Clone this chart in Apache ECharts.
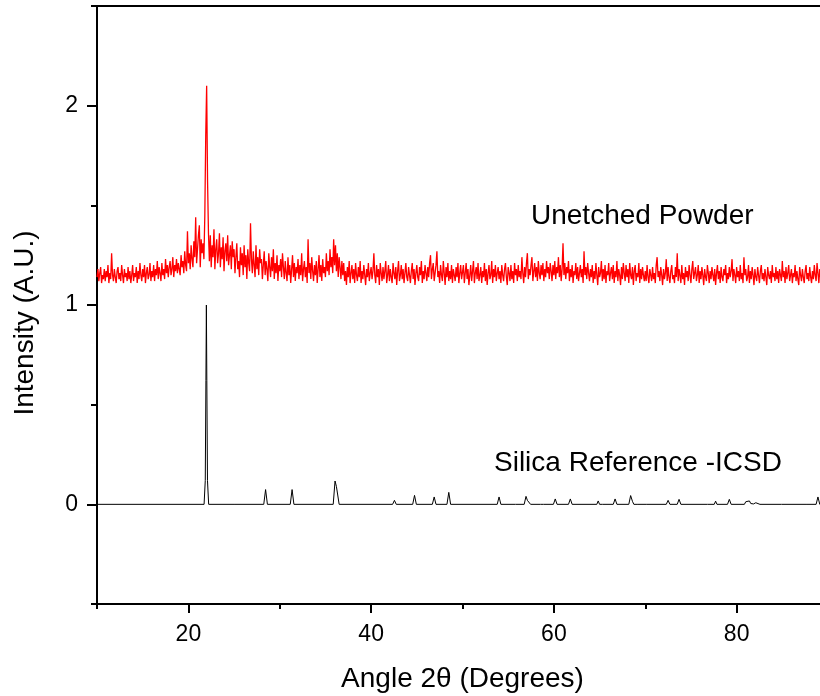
<!DOCTYPE html>
<html>
<head>
<meta charset="utf-8">
<script src="https://cdn.jsdelivr.net/npm/echarts@6/dist/echarts.min.js"></script>
<style>
html,body{margin:0;padding:0;background:#fff;}
#chart{width:820px;height:696px;}
</style>
</head>
<body>
<div id="chart"></div>
<script>
// ---------- DATA ----------
// X-ray diffraction scan of unetched powder: uniform 2θ sampling
const unetchedStart = 10.0;   // degrees 2θ
const unetchedStep = 0.1;     // degrees 2θ per sample
const unetchedY = [
1.14,1.18,1.12,1.16,1.19,1.11,1.15,1.13,1.18,1.12,1.17,1.14,1.20,1.11,1.16,1.13,1.26,1.15,1.12,1.18,
1.14,1.11,1.17,1.19,1.13,1.16,1.12,1.20,1.15,1.11,1.18,1.14,1.16,1.12,1.19,1.13,1.17,1.11,1.15,1.20,
1.12,1.16,1.14,1.19,1.11,1.17,1.13,1.21,1.15,1.12,1.18,1.14,1.20,1.11,1.16,1.19,1.13,1.15,1.21,1.12,
1.17,1.14,1.20,1.12,1.18,1.15,1.22,1.13,1.19,1.16,1.12,1.21,1.15,1.18,1.13,1.23,1.16,1.20,1.14,1.19,
1.22,1.15,1.18,1.24,1.14,1.20,1.17,1.23,1.16,1.21,1.18,1.15,1.25,1.19,1.22,1.16,1.27,1.20,1.17,1.37,
1.21,1.26,1.18,1.30,1.23,1.19,1.32,1.24,1.44,1.21,1.28,1.35,1.40,1.19,1.33,1.26,1.31,1.23,1.45,1.85,
2.10,1.62,1.36,1.22,1.35,1.19,1.30,1.24,1.38,1.18,1.28,1.33,1.21,1.26,1.36,1.19,1.29,1.23,1.34,1.17,
1.27,1.31,1.22,1.35,1.20,1.25,1.30,1.18,1.32,1.24,1.28,1.16,1.24,1.31,1.18,1.22,1.14,1.29,1.20,1.26,
1.15,1.30,1.19,1.25,1.13,1.28,1.21,1.17,1.41,1.23,1.16,1.27,1.20,1.14,1.30,1.18,1.24,1.15,1.28,1.21,
1.23,1.13,1.20,1.27,1.15,1.22,1.18,1.12,1.26,1.19,1.14,1.24,1.17,1.28,1.13,1.21,1.16,1.25,1.12,1.20,
1.17,1.23,1.14,1.26,1.19,1.13,1.22,1.16,1.12,1.24,1.15,1.20,1.11,1.18,1.25,1.14,1.21,1.12,1.19,1.16,
1.23,1.13,1.20,1.15,1.26,1.12,1.18,1.22,1.14,1.19,1.11,1.33,1.16,1.21,1.13,1.24,1.17,1.12,1.20,1.15,
1.22,1.11,1.18,1.25,1.14,1.20,1.12,1.23,1.16,1.19,1.14,1.26,1.17,1.22,1.15,1.28,1.19,1.24,1.16,1.33,
1.20,1.30,1.17,1.26,1.14,1.24,1.19,1.13,1.22,1.15,1.21,1.12,1.17,1.10,1.19,1.14,1.22,1.11,1.16,1.20,
1.13,1.18,1.11,1.21,1.15,1.12,1.19,1.14,1.22,1.11,1.17,1.13,1.20,1.15,1.10,1.18,1.14,1.21,1.12,1.16,
1.19,1.13,1.17,1.26,1.15,1.11,1.20,1.14,1.18,1.10,1.21,1.16,1.12,1.19,1.13,1.17,1.22,1.11,1.15,1.20,
1.12,1.18,1.14,1.11,1.21,1.16,1.13,1.19,1.10,1.17,1.22,1.12,1.15,1.20,1.13,1.18,1.11,1.16,1.21,1.14,
1.12,1.19,1.15,1.11,1.17,1.21,1.13,1.18,1.10,1.16,1.20,1.14,1.12,1.19,1.15,1.22,1.11,1.17,1.13,1.20,
1.16,1.12,1.19,1.14,1.21,1.25,1.13,1.18,1.21,1.12,1.16,1.20,1.27,1.14,1.17,1.11,1.20,1.15,1.12,1.22,
1.16,1.10,1.19,1.14,1.21,1.12,1.17,1.13,1.20,1.11,1.18,1.15,1.12,1.19,1.14,1.21,1.11,1.16,1.20,1.13,
1.14,1.20,1.11,1.16,1.21,1.13,1.18,1.10,1.15,1.20,1.12,1.17,1.22,1.11,1.16,1.19,1.13,1.21,1.12,1.15,
1.19,1.11,1.17,1.14,1.21,1.12,1.18,1.10,1.16,1.20,1.13,1.15,1.22,1.11,1.18,1.14,1.20,1.12,1.16,1.19,
1.13,1.17,1.11,1.20,1.15,1.12,1.18,1.21,1.14,1.10,1.19,1.16,1.12,1.20,1.13,1.17,1.11,1.21,1.15,1.18,
1.12,1.20,1.14,1.17,1.13,1.24,1.16,1.11,1.19,1.14,1.21,1.26,1.13,1.18,1.15,1.20,1.24,1.12,1.17,1.21,
1.14,1.19,1.12,1.22,1.16,1.13,1.20,1.15,1.21,1.12,1.18,1.14,1.22,1.16,1.19,1.13,1.21,1.17,1.12,1.20,
1.15,1.22,1.13,1.19,1.16,1.24,1.14,1.20,1.12,1.18,1.31,1.15,1.21,1.13,1.19,1.16,1.22,1.12,1.18,1.14,
1.20,1.11,1.17,1.15,1.21,1.13,1.19,1.12,1.16,1.20,1.14,1.18,1.11,1.27,1.15,1.19,1.13,1.21,1.16,1.12,
1.18,1.14,1.20,1.11,1.17,1.13,1.21,1.15,1.10,1.19,1.14,1.16,1.22,1.12,1.18,1.13,1.20,1.11,1.17,1.15,
1.21,1.12,1.16,1.19,1.13,1.20,1.11,1.17,1.14,1.22,1.12,1.18,1.15,1.10,1.19,1.13,1.21,1.16,1.12,1.20,
1.14,1.18,1.11,1.21,1.15,1.13,1.19,1.10,1.17,1.20,1.12,1.16,1.14,1.21,1.11,1.18,1.13,1.19,1.15,1.12,
1.17,1.12,1.20,1.14,1.11,1.18,1.15,1.12,1.19,1.13,1.16,1.11,1.20,1.24,1.14,1.17,1.12,1.19,1.15,1.10,
1.18,1.13,1.16,1.23,1.12,1.19,1.14,1.11,1.17,1.20,1.13,1.15,1.11,1.19,1.14,1.26,1.12,1.18,1.15,1.11,
1.20,1.13,1.16,1.10,1.19,1.14,1.17,1.12,1.20,1.15,1.11,1.18,1.22,1.13,1.16,1.19,1.12,1.15,1.20,1.11,
1.17,1.13,1.19,1.15,1.10,1.18,1.14,1.12,1.20,1.16,1.11,1.17,1.13,1.19,1.15,1.12,1.18,1.10,1.16,1.20,
1.13,1.17,1.11,1.19,1.14,1.12,1.18,1.15,1.20,1.11,1.16,1.13,1.19,1.14,1.17,1.23,1.12,1.18,1.15,1.11,
1.19,1.14,1.17,1.12,1.20,1.13,1.16,1.11,1.24,1.15,1.18,1.12,1.14,1.20,1.11,1.17,1.13,1.19,1.15,1.10,
1.18,1.14,1.12,1.19,1.15,1.11,1.17,1.20,1.13,1.16,1.12,1.18,1.14,1.10,1.19,1.15,1.13,1.17,1.11,1.20,
1.14,1.16,1.12,1.19,1.13,1.17,1.11,1.18,1.15,1.12,1.22,1.14,1.17,1.11,1.19,1.13,1.16,1.20,1.12,1.15,
1.18,1.11,1.16,1.14,1.20,1.12,1.17,1.13,1.10,1.19,1.15,1.12,1.18,1.14,1.11,1.17,1.20,1.13,1.16,1.12,
1.19,1.14,1.11,1.17,1.13,1.20,1.15,1.12,1.21,1.16,1.11,1.18,1.14
];

// Silica reference pattern (ICSD), peak profile points
const refAngle = [
10,
21.72,21.85,21.92,21.97,22.02,22.09,22.22,
25.1,25.2,25.3,
28.25,28.45,28.65,
31.15,31.35,31.55,
35.85,36.05,36.2,36.3,36.5,
42.35,42.55,42.75,
44.55,44.75,44.95,
46.7,46.9,47.1,
48.3,48.5,48.7,
53.8,54.0,54.2,
55.8,55.9,56.0,
56.75,56.95,57.1,57.3,57.45,
58.55,58.7,58.85,
59.95,60.15,60.35,
61.6,61.8,62.0,
64.7,64.85,65.0,65.1,65.2,65.3,
66.5,66.7,66.9,
68.2,68.4,68.6,68.75,
69.2,69.3,69.4,
70.1,70.2,70.3,
72.3,72.5,72.7,
73.5,73.7,73.9,
76.8,76.9,77.0,
77.55,77.7,77.85,
79.0,79.2,79.4,
80.85,81.0,81.15,81.4,81.55,81.7,81.85,82.1,82.25,
82.55,82.6,82.7,
84.9,85.0,85.1,
87.7,87.8,87.9,
88.7,88.9,89.1,
90
];
const refIntensity = [
0,
0,0.12,0.62,1.0,0.62,0.12,0,
0,0.006,0,
0,0.074,0,
0,0.074,0,
0,0.117,0.09,0.085,0,
0,0.02,0,
0,0.045,0,
0,0.037,0,
0,0.06,0,
0,0.037,0,
0,0.006,0,
0,0.04,0.02,0.028,0,
0,0.01,0,
0,0.027,0,
0,0.027,0,
0,0.017,0,0,0.008,0,
0,0.027,0,
0,0.044,0.015,0,
0,0.01,0,
0,0.008,0,
0,0.02,0,
0,0.025,0,
0,0.01,0,
0,0.016,0,
0,0.025,0,
0,0.013,0.005,0.017,0.004,0.01,0.002,0.008,0,
0,0.005,0,
0,0.003,0,
0,0.005,0,
0,0.037,0,
0
];

// Axis ticks / labels
const xMajorTicks = [20, 40, 60, 80];
const xMinorTicks = [10, 30, 50, 70, 90];
const yMajorTicks = [0, 1, 2];
const yMinorTicks = [-0.5, 0.5, 1.5, 2.5];
const xTitle = 'Angle 2θ (Degrees)';
const yTitle = 'Intensity (A.U.)';
const labelUnetched = 'Unetched Powder';
const labelSilica = 'Silica Reference -ICSD';

// ---------- CHART ----------
const FONT = "'Liberation Sans', Arial, sans-serif";
const unetchedData = unetchedY.map((v, i) => [+(unetchedStart + i * unetchedStep).toFixed(2), v]);
const refData = refAngle.map((a, i) => [a, refIntensity[i]]);

const chart = echarts.init(document.getElementById('chart'), null, {renderer: 'canvas'});
const axisLineStyle = {color: '#000', width: 2};

chart.setOption({
  animation: false,
  backgroundColor: '#fff',
  grid: {left: 97, top: 6, width: 731, height: 598, containLabel: false, outerBoundsMode: 'none'},
  xAxis: [
    {
      type: 'value', min: 10, max: 90, interval: 10, position: 'bottom',
      axisLine: {show: true, onZero: false, lineStyle: axisLineStyle},
      axisTick: {show: true, customValues: xMajorTicks, length: 9, lineStyle: {color: '#000', width: 2}},
      axisLabel: {show: true, customValues: xMajorTicks, fontSize: 23, fontFamily: FONT, color: '#000', margin: 19},
      splitLine: {show: false},
      name: xTitle, nameLocation: 'middle', nameGap: 61,
      nameTextStyle: {fontSize: 28, fontFamily: FONT, color: '#000'}
    },
    {
      type: 'value', min: 10, max: 90, interval: 10, position: 'bottom',
      axisLine: {show: false, onZero: false},
      axisTick: {show: true, customValues: xMinorTicks, length: 5, lineStyle: {color: '#000', width: 2}},
      axisLabel: {show: false},
      splitLine: {show: false}
    },
    {
      type: 'value', min: 10, max: 90, interval: 10, position: 'top',
      axisLine: {show: true, onZero: false, lineStyle: axisLineStyle},
      axisTick: {show: false}, axisLabel: {show: false}, splitLine: {show: false}
    }
  ],
  yAxis: [
    {
      type: 'value', min: -0.5, max: 2.5, interval: 0.5, position: 'left',
      axisLine: {show: true, onZero: false, lineStyle: axisLineStyle},
      axisTick: {show: true, customValues: yMajorTicks, length: 10, lineStyle: {color: '#000', width: 2}},
      axisLabel: {show: true, customValues: yMajorTicks, fontSize: 23, fontFamily: FONT, color: '#000', margin: 19},
      splitLine: {show: false},
      name: yTitle, nameLocation: 'middle', nameGap: 58,
      nameTextStyle: {fontSize: 28, fontFamily: FONT, color: '#000', padding: [0, 36, 0, 0]}
    },
    {
      type: 'value', min: -0.5, max: 2.5, interval: 0.5, position: 'left',
      axisLine: {show: false, onZero: false},
      axisTick: {show: true, customValues: yMinorTicks, length: 6, lineStyle: {color: '#000', width: 2}},
      axisLabel: {show: false},
      splitLine: {show: false}
    }
  ],
  graphic: [
    {type: 'text', x: 531, y: 202, style: {text: labelUnetched, font: '28px ' + FONT, fill: '#000'}},
    {type: 'text', x: 494, y: 449, style: {text: labelSilica, font: '28px ' + FONT, fill: '#000'}}
  ],
  series: [
    {
      name: 'Unetched Powder', type: 'line', xAxisIndex: 0, yAxisIndex: 0,
      data: unetchedData, showSymbol: false, symbol: 'none', clip: true,
      lineStyle: {color: '#ff0000', width: 1.3}, z: 2
    },
    {
      name: 'Silica Reference', type: 'line', xAxisIndex: 0, yAxisIndex: 0,
      data: refData, showSymbol: false, symbol: 'none', clip: true,
      lineStyle: {color: '#000', width: 1}, z: 3
    }
  ]
});
</script>
</body>
</html>
